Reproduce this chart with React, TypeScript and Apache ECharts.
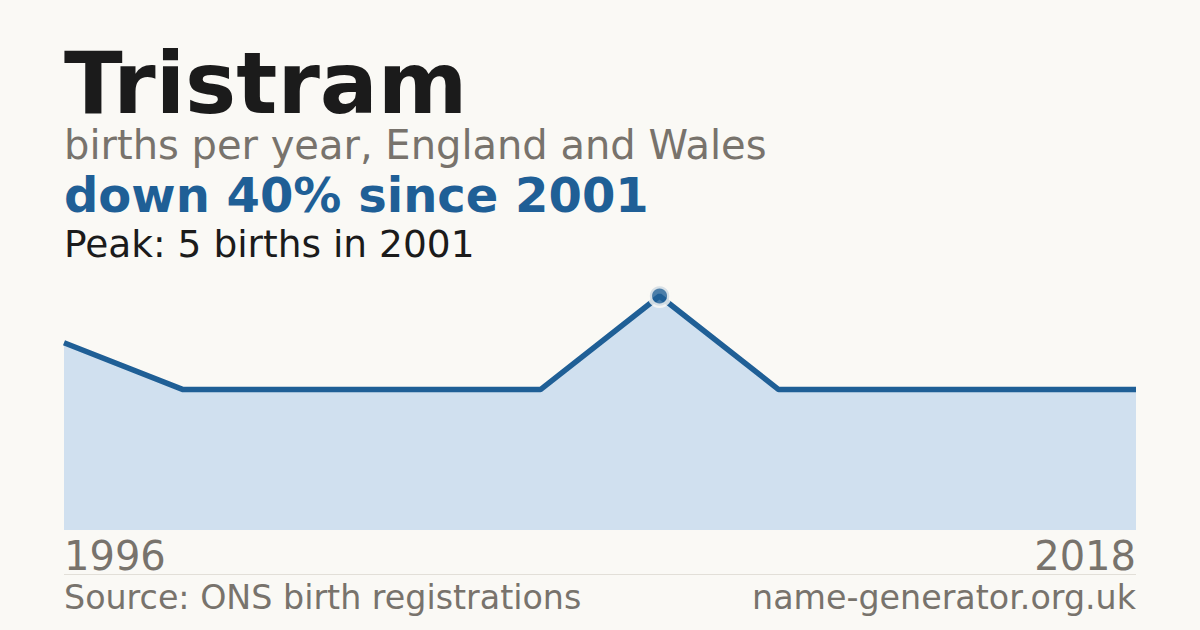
import React, { useEffect, useRef } from "react";
import * as echarts from "echarts";

// years with published counts (3 or more births)
const years = ["1996", "1997", "1998", "1999", "2000", "2001", "2003", "2009", "2014", "2018"];
const births = [4, 3, 3, 3, 3, 5, 3, 3, 3, 3];

const title = "Tristram";
const subtitle = "births per year, England and Wales";
const trend = "down 40% since 2001";
const peakNote = "Peak: 5 births in 2001";
const source = "Source: ONS birth registrations";
const site = "name-generator.org.uk";

const BG = "#faf9f5";
const BLUE = "#1f5f96";
const GREY = "#78736c";
const FONT = "DejaVu Sans";

const App: React.FC = () => {
  const chartRef = useRef<HTMLDivElement>(null);

  useEffect(() => {
    if (!chartRef.current) return;
    const chart = echarts.init(chartRef.current, null, { renderer: "svg" });

    const peakIdx = births.indexOf(Math.max(...births));
    const peakData = births.map((v, i) => (i === peakIdx ? v : "-"));

    chart.setOption({
      animation: false,
      backgroundColor: BG,
      textStyle: { fontFamily: FONT },
      grid: { left: 64, right: 64, top: 272.6, bottom: 100 },
      xAxis: {
        type: "category",
        data: years,
        boundaryGap: false,
        axisLine: { show: false },
        axisTick: { show: false },
        splitLine: { show: false },
        axisLabel: {
          interval: (i: number) => i === 0 || i === years.length - 1,
          color: GREY,
          fontSize: 40,
          fontFamily: FONT,
          margin: 6,
          alignMinLabel: "left",
          alignMaxLabel: "right",
        },
      },
      yAxis: {
        type: "value",
        min: 0,
        max: 5.5,
        show: false,
        splitLine: { show: false },
      },
      series: [
        {
          type: "line",
          data: births,
          symbol: "none",
          lineStyle: { color: BLUE, width: 5.5 },
          areaStyle: { color: "#d0e0ef", opacity: 1 },
          silent: true,
        },
        {
          type: "scatter",
          data: peakData,
          symbol: "circle",
          symbolSize: 19.5,
          itemStyle: { color: BLUE, borderColor: BG, borderWidth: 4.5 },
          silent: true,
          z: 5,
        },
      ],
      graphic: [
        {
          type: "text",
          left: 64,
          top: 40,
          style: { text: title, font: `bold 86px ${FONT}`, fill: "#1b1b1b" },
        },
        {
          type: "text",
          left: 64,
          top: 124.5,
          style: { text: subtitle, font: `40px ${FONT}`, fill: GREY },
        },
        {
          type: "text",
          left: 64,
          top: 171,
          style: { text: trend, font: `bold 48px ${FONT}`, fill: BLUE },
        },
        {
          type: "text",
          left: 64,
          top: 225,
          style: { text: peakNote, font: `37.5px ${FONT}`, fill: "#1b1b1b" },
        },
        {
          type: "line",
          shape: { x1: 64, y1: 574.5, x2: 1136, y2: 574.5 },
          style: { stroke: "#e2dfd8", lineWidth: 1 },
        },
        {
          type: "text",
          left: 64,
          top: 581,
          style: { text: source, font: `33.3px ${FONT}`, fill: GREY },
        },
        {
          type: "text",
          right: 64,
          top: 581,
          style: { text: site, font: `33.3px ${FONT}`, fill: GREY },
        },
      ],
    });

    return () => {
      chart.dispose();
    };
  }, []);

  return (
    <div
      ref={chartRef}
      style={{ position: "fixed", left: 0, top: 0, width: 1200, height: 630 }}
    />
  );
};

export default App;
